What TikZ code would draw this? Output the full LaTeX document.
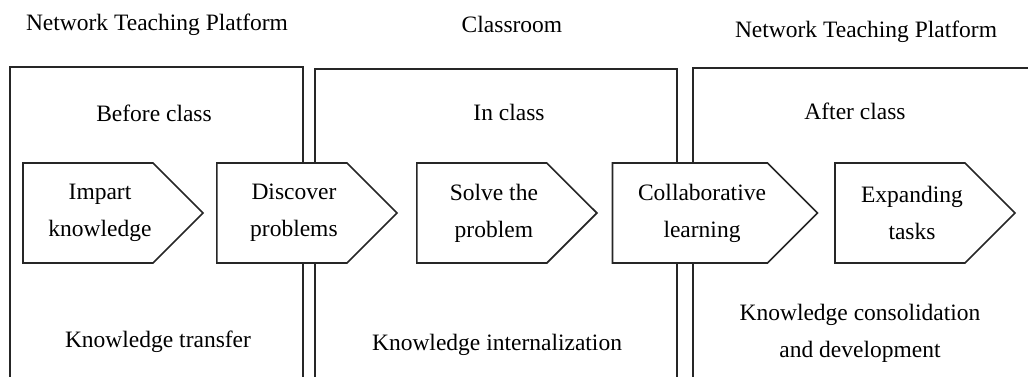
\documentclass[tikz,border=0pt]{standalone}
\usepackage{fontspec}
\setmainfont{Liberation Serif}
\usetikzlibrary{positioning,shapes.symbols}

% two lines of a stage, set a little to the right of the body centre
\newcommand{\stagetext}[2]{\hspace*{24pt}#1\\\hspace*{24pt}#2}

\begin{document}
\begin{tikzpicture}[
    x=1pt, y=1pt,
    node distance = 18pt,
    font=\fontsize{23.5}{37}\selectfont,
    phase/.style={draw=black!85, line width=1.6pt},
    stage/.style={draw=black!85, line width=1.6pt, fill=white,
      shape=signal, signal to=east, signal pointer angle=90,
      minimum width=180pt, minimum height=100pt,
      align=center, inner sep=0pt}]
    \useasboundingbox (0,0) rectangle (1028,376);
    \clip (0,0) rectangle (1028,376);

    % PHASE FRAMES
    \draw[phase] (10,-20) rectangle (303,309);
    \draw[phase] (315,-20) rectangle (677,307);
    \draw[phase] (693,-20) rectangle (1060,308);

    % TITLES
    \node[anchor=base] (netL) at (157,346) {Network Teaching Platform};
    \node[anchor=base] (room) at (512,344) {Classroom};
    \node[anchor=base] (netR) at (866,339) {Network Teaching Platform};

    % PHASE NAMES
    \node[anchor=base] (before) at (154,255) {Before class};
    \node[anchor=base] (during) at (509,256) {In class};
    \node[anchor=base] (after) at (855,257) {After class};

    % STAGES
    % node Impart
    \node[stage] (impart) at (88,163) {\stagetext{Impart}{knowledge}};
    % node Discover
    \node[stage, right = 12pt of impart] (discover) {\stagetext{Discover}{problems}};
    % node Solve
    \node[stage, right = 18pt of discover] (solve) {\stagetext{Solve the}{problem}};
    % node Collaborate
    \node[stage, minimum width=205pt] (collab) at (690,163) {\stagetext{Collaborative}{learning}};
    % node Expand
    \node[stage] (expand) at (900,163) {\stagetext{Expanding}{tasks}};

    % OUTCOMES
    \node[anchor=base] (transfer) at (158,29) {Knowledge transfer};
    \node[anchor=base] (internal) at (497,26) {Knowledge internalization};
    \node[anchor=base, align=center] (consol) at (860,19) {Knowledge consolidation\\and development};
  \end{tikzpicture}
\end{document}
